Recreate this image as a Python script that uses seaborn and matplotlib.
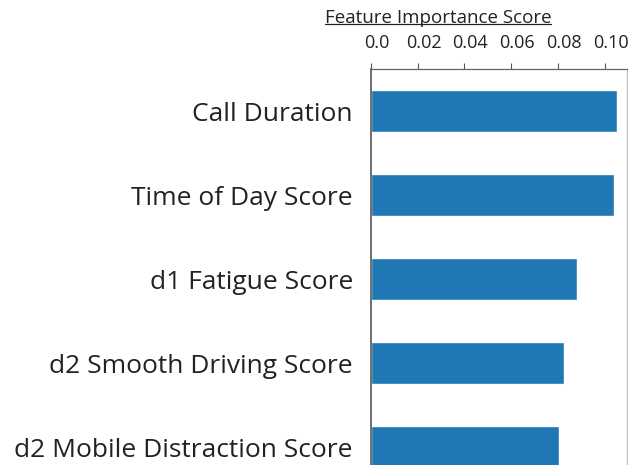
import numpy as np
import pandas as pd
import seaborn as sns
import matplotlib.pyplot as plt
import matplotlib.transforms as mtransforms
from matplotlib.lines import Line2D

features = [
    'Call Duration',
    'Time of Day Score',
    'd1 Fatigue Score',
    'd2 Smooth Driving Score',
    'd2 Mobile Distraction Score',
]
importance = [0.1054, 0.1041, 0.0882, 0.0827, 0.0805]
tick_values = [0.0, 0.02, 0.04, 0.06, 0.08, 0.10]
tick_labels = ['0.0', '0.02', '0.04', '0.06', '0.08', '0.10']

df = pd.DataFrame({'feature': features, 'importance': importance})

sns.set_theme(style='white')
plt.rcParams['font.family'] = ['Open Sans', 'DejaVu Sans']

fig = plt.figure(figsize=(6.28, 4.65), dpi=100)
ax = fig.add_axes([0.5908, 0.0, 0.4076, 0.8516])

sns.barplot(data=df, x='importance', y='feature', color='#1f77b4',
            saturation=1, width=0.5, orient='h', ax=ax)

ax.set_xlim(0, 0.1096)
ax.set_ylim(4.21, -0.5)
ax.xaxis.tick_top()
ax.xaxis.set_label_position('top')
ax.set_xticks(tick_values)
ax.set_xticklabels(tick_labels, fontsize=13, color='#222222')
ax.tick_params(axis='x', direction='out', length=4, width=0.8, color='#555555', pad=8.5)
ax.tick_params(axis='y', direction='out', length=5, width=1.0, color='#444444', pad=8,
               labelsize=19, labelcolor='#222222')
ax.set_ylabel('')
ax.set_xlabel('Feature Importance Score', fontsize=13.5, color='#222222')
ax.xaxis.set_label_coords(0.262, 1.106)
ax.xaxis.label.set_verticalalignment('bottom')

# the numbers sit a little right of their ticks in the original
shift = mtransforms.ScaledTranslation(6 / 100, 0, fig.dpi_scale_trans)
for lab in ax.get_xticklabels():
    lab.set_transform(lab.get_transform() + shift)

ax.spines['bottom'].set_visible(False)
ax.spines['left'].set_color('#555555')
ax.spines['left'].set_linewidth(1.2)
ax.spines['top'].set_color('#666666')
ax.spines['top'].set_linewidth(0.9)
ax.spines['right'].set_color('#bbbbbb')
ax.spines['right'].set_linewidth(0.9)

# underline the axis label
fig.canvas.draw()
bb = ax.xaxis.label.get_window_extent().transformed(fig.transFigure.inverted())
fig.add_artist(Line2D([bb.x0, bb.x1], [bb.y0 + 0.006, bb.y0 + 0.006],
                      transform=fig.transFigure, color='#222222', linewidth=0.9))

fig.savefig('out.png', dpi=100)
